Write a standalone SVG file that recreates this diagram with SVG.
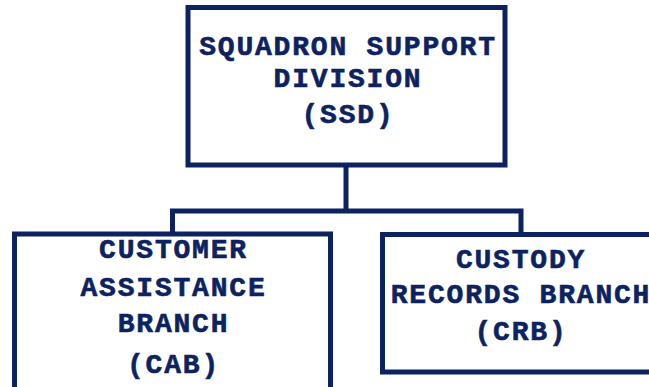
<svg xmlns="http://www.w3.org/2000/svg" width="649" height="387" viewBox="0 0 649 387">
  <style>
    .box { fill: #ffffff; stroke: #0d2361; stroke-width: 5; }
    .wire { fill: none; stroke: #0d2361; stroke-width: 5; }
    .label { font-family: "Liberation Mono", "Courier New", monospace; font-weight: bold; font-size: 28px; letter-spacing: 1.8px; fill: #0d2361; stroke: #0d2361; stroke-width: 0.6; text-anchor: middle; }
  </style>
  <rect width="649" height="387" fill="#ffffff"/>
  <g id="connectors">
    <path class="wire" d="M346,165 V211 M172.5,234 V211 H521 V234"/>
  </g>
  <g id="ssd">
    <rect class="box" x="188" y="7.5" width="317" height="157.5"/>
    <text class="label" x="348" y="55">SQUADRON SUPPORT</text>
    <text class="label" x="348" y="87">DIVISION</text>
    <text class="label" x="348" y="123">(SSD)</text>
  </g>
  <g id="cab">
    <rect class="box" x="14.5" y="234" width="316" height="170"/>
    <text class="label" x="173.5" y="258">CUSTOMER</text>
    <text class="label" x="173.5" y="296">ASSISTANCE</text>
    <text class="label" x="173.5" y="332">BRANCH</text>
    <text class="label" x="173.5" y="373">(CAB)</text>
  </g>
  <g id="crb">
    <rect class="box" x="382.5" y="234.5" width="290" height="137.5"/>
    <text class="label" x="521" y="268">CUSTODY</text>
    <text class="label" x="521" y="303">RECORDS BRANCH</text>
    <text class="label" x="521" y="340">(CRB)</text>
  </g>
</svg>
